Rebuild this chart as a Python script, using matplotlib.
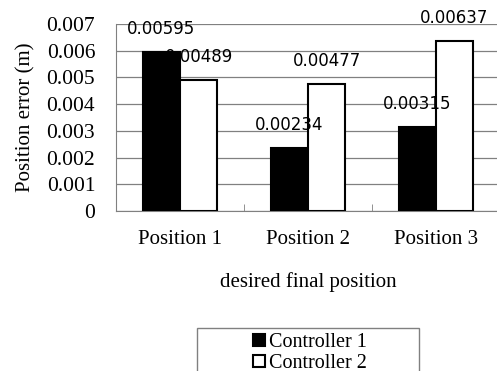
import matplotlib.pyplot as plt
from matplotlib.patches import Rectangle
import numpy as np

categories = ['Position 1', 'Position 2', 'Position 3']
controller1 = [0.00595, 0.00234, 0.00315]
controller2 = [0.00489, 0.00477, 0.00637]
series_names = ['Controller 1', 'Controller 2']

serif = ['Liberation Serif', 'DejaVu Serif']

fig = plt.figure(figsize=(4.97, 3.71), dpi=100)
ax = fig.add_axes([116 / 497, 160 / 371, 384 / 497, 187 / 371])

x = np.arange(len(categories))
w = 0.29
b1 = ax.bar(x - w / 2, controller1, w, color='black', edgecolor='black', linewidth=1.5, zorder=3,
            label=series_names[0])
b2 = ax.bar(x + w / 2, controller2, w, color='white', edgecolor='black', linewidth=1.5, zorder=3,
            label=series_names[1])

# value labels above each bar
for bars, vals in ((b1, controller1), (b2, controller2)):
    for r, v in zip(bars, vals):
        ax.annotate(f'{v:g}', (r.get_x() + r.get_width() / 2, v), xytext=(0, 23),
                    textcoords='offset pixels', ha='center', va='center',
                    fontsize=12, family='DejaVu Sans', zorder=5)

ax.set_xlim(-0.5, len(categories) - 0.5)
ax.set_ylim(0, 0.007)
ax.set_yticks(np.arange(0, 0.0071, 0.001))
ax.set_yticklabels(['0'] + [f'{v:.3f}' for v in np.arange(0.001, 0.0071, 0.001)])
ax.yaxis.grid(True, color='#808080', linewidth=0.9, zorder=0)
ax.set_axisbelow(True)

ax.set_xticks(x)
ax.set_xticklabels(categories)
ax.set_xticks(np.arange(0.5, len(categories) - 0.5, 1), minor=True)
ax.tick_params(axis='x', which='major', length=0, pad=14)
ax.tick_params(axis='x', which='minor', length=5, direction='in', color='#808080')
ax.tick_params(axis='y', length=0, pad=15)
for lab in ax.get_xticklabels():
    lab.set_family(serif)
    lab.set_fontsize(15)
for lab in ax.get_yticklabels():
    lab.set_family(serif)
    lab.set_fontsize(15.5)

for s in ('top', 'right'):
    ax.spines[s].set_visible(False)
ax.spines['left'].set_color('#808080')
ax.spines['bottom'].set_color('#808080')

ax.set_ylabel('Position error (m)', family=serif, fontsize=15, labelpad=8)
ax.set_xlabel('desired final position', family=serif, fontsize=15, labelpad=16)

# legend box, running off the bottom edge
fig.patches.append(Rectangle((197 / 497, -0.05), 222 / 497, 1 - 328 / 371 + 0.05,
                             transform=fig.transFigure, facecolor='white',
                             edgecolor='#808080', linewidth=1.0))
leg = fig.legend(handles=[b1, b2], loc='upper left', bbox_to_anchor=(253 / 497, 1 - 333 / 371),
                 prop={'family': serif, 'size': 14.5}, frameon=False,
                 handlelength=0.6, handleheight=0.6, handletextpad=0.2, borderpad=0,
                 labelspacing=0.1, borderaxespad=0)
for h in leg.legend_handles:
    h.set_linewidth(1.5)

fig.savefig('out.png', dpi=100)
